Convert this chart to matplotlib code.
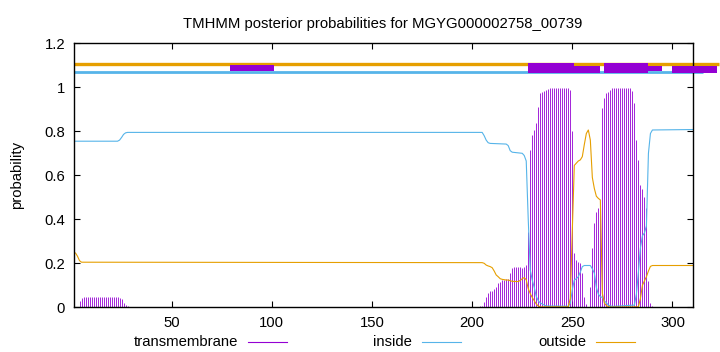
import numpy as np
import matplotlib
matplotlib.use('Agg')
import matplotlib.pyplot as plt
from matplotlib.lines import Line2D
from matplotlib.patches import Rectangle

plt.rcParams['font.family'] = ['Liberation Sans', 'DejaVu Sans']

title = 'TMHMM posterior probabilities for MGYG000002758_00739'
seq_len = 310

# transmembrane posterior, one impulse per residue
tm_pos = list(range(4, 33)) + list(range(175, 189)) + list(range(200, 292))
tm_val = [0.029, 0.043,
          0.045, 0.045, 0.045, 0.045, 0.045, 0.045, 0.045, 0.045, 0.045,
          0.045, 0.045, 0.045, 0.045, 0.045, 0.045, 0.045, 0.045, 0.045,
          0.044, 0.036, 0.018, 0.011, 0.004, 0.003, 0.002, 0.002, 0.001,
          # 175-188
          0.002, 0.002, 0.002, 0.002, 0.002, 0.002, 0.002,
          0.002, 0.002, 0.002, 0.002, 0.002, 0.002, 0.002,
          # 200-206
          0.002, 0.002, 0.003, 0.003, 0.004, 0.008, 0.025,
          # 207-240
          0.048, 0.064, 0.072, 0.076, 0.085, 0.094, 0.109, 0.117, 0.124, 0.124,
          0.127, 0.127, 0.154, 0.177, 0.182, 0.185, 0.185, 0.182, 0.177, 0.185,
          0.191, 0.344, 0.715, 0.783, 0.806, 0.836, 0.912, 0.973, 0.980, 0.985,
          0.990, 0.993, 0.995, 0.997,
          # 241-248
          0.998, 0.998, 0.998, 0.998, 0.998, 0.998, 0.998, 0.998,
          # 249-269
          0.990, 0.800, 0.245, 0.215, 0.205, 0.200, 0.155, 0.048, 0.015, 0.003,
          0.094, 0.268, 0.382, 0.435, 0.450, 0.480, 0.904, 0.950, 0.972, 0.980,
          0.990,
          # 270-279
          0.998, 0.998, 0.998, 0.998, 0.998, 0.998, 0.998, 0.998, 0.998, 0.998,
          # 280-291
          0.985, 0.927, 0.760, 0.669, 0.556, 0.540, 0.503, 0.450, 0.120, 0.020,
          0.005, 0.002]

# inside posterior
in_pos = [1, 23, 24, 25, 26, 27, 28, 205, 206, 207, 208, 209, 217, 218, 219,
          220, 225, 226, 227, 228, 229, 230, 231, 232, 233, 234, 235, 236, 237,
          248, 249, 250, 251, 252, 253, 254, 255, 256, 259, 260, 261, 262, 263,
          264, 265, 266, 267, 268, 270, 281, 282, 283, 284, 285, 286, 287, 288,
          289, 290, 310]
in_val = [0.755, 0.755, 0.760, 0.772, 0.786, 0.793, 0.795, 0.795, 0.780, 0.760,
          0.748, 0.745, 0.742, 0.735, 0.712, 0.705, 0.700, 0.690, 0.665, 0.400,
          0.170, 0.124, 0.090, 0.050, 0.030, 0.020, 0.015, 0.010, 0.006, 0.005,
          0.018, 0.080, 0.124, 0.130, 0.139, 0.160, 0.185, 0.190, 0.190, 0.175,
          0.155, 0.090, 0.060, 0.048, 0.045, 0.030, 0.020, 0.010, 0.004, 0.010,
          0.060, 0.160, 0.270, 0.325, 0.338, 0.370, 0.700, 0.790, 0.806, 0.808]

# outside posterior
out_pos = [1, 2, 3, 4, 5, 205, 206, 207, 208, 209, 210, 211, 212, 213, 214,
           215, 217, 218, 219, 220, 223, 224, 225, 226, 227, 228, 229, 230, 231,
           232, 233, 234, 248, 249, 250, 251, 252, 253, 254, 255, 256, 257, 258,
           259, 260, 261, 262, 263, 264, 265, 266, 267, 268, 269, 283, 284, 285,
           286, 287, 288, 289, 290, 310]
out_val = [0.247, 0.247, 0.232, 0.212, 0.205, 0.203, 0.200, 0.192, 0.188, 0.185,
           0.180, 0.165, 0.147, 0.139, 0.130, 0.127, 0.124, 0.124, 0.121, 0.118,
           0.117, 0.122, 0.130, 0.135, 0.125, 0.085, 0.062, 0.045, 0.030, 0.015,
           0.006, 0.002, 0.002, 0.040, 0.350, 0.645, 0.655, 0.665, 0.670, 0.685,
           0.740, 0.790, 0.806, 0.760, 0.590, 0.540, 0.505, 0.495, 0.488, 0.064,
           0.020, 0.008, 0.003, 0.001, 0.002, 0.040, 0.100, 0.120, 0.139, 0.165,
           0.186, 0.190, 0.190]

# topology summary drawn above 1.0
out_bar = [1, 323]
in_bar = [1, 315]
helix_start = [79, 228, 251, 266, 288, 300]
helix_end = [101, 251, 264, 288, 295, 322]
helix_low = [1.073, 1.064, 1.064, 1.064, 1.075, 1.064]
helix_high = [1.103, 1.110, 1.098, 1.110, 1.098, 1.098]

c_tm = '#9400D3'
c_in = '#56B4E9'
c_out = '#E69F00'
fs = 10.7

fig = plt.figure(figsize=(7.2, 3.52), dpi=100)
ax = fig.add_axes([73.5/720, 1 - 307.3/352, (692.5-73.5)/720, (307.3-43.3)/352])

ax.vlines(tm_pos, 0, tm_val, color=c_tm, lw=0.6)
ax.plot(in_pos, in_val, color=c_in, lw=0.8)
ax.plot(out_pos, out_val, color=c_out, lw=0.8)

ax.plot(out_bar, [1.107, 1.107], color=c_out, lw=2.4, clip_on=False,
        solid_capstyle='butt')
ax.plot(in_bar, [1.068, 1.068], color=c_in, lw=2.0, clip_on=False,
        solid_capstyle='butt')
for s, e, lo, hi in zip(helix_start, helix_end, helix_low, helix_high):
    ax.add_patch(Rectangle((s, lo), e - s, hi - lo, color=c_tm, lw=0,
                           clip_on=False, zorder=3))

ax.set_xlim(1, seq_len)
ax.set_ylim(0, 1.2)
ax.set_xticks([50, 100, 150, 200, 250, 300])
yt = [0, 0.2, 0.4, 0.6, 0.8, 1.0, 1.2]
ax.set_yticks(yt)
ax.set_yticklabels(['0', '0.2', '0.4', '0.6', '0.8', '1', '1.2'])
ax.tick_params(direction='in', top=True, right=True, length=4, width=0.8,
               labelsize=fs, pad=6)
for sp in ax.spines.values():
    sp.set_linewidth(1.0)

ax.set_title(title, fontsize=fs, pad=11)
fig.text(17/720, 1 - 175/352, 'probability', rotation=90, fontsize=fs,
         ha='center', va='center')

# key below the plot, gnuplot style (label then sample)
key_labels = ['transmembrane', 'inside', 'outside']
key_colors = [c_tm, c_in, c_out]
key_right = [238, 412, 586]
ky = 1 - 341.5/352
for lab, col, xr in zip(key_labels, key_colors, key_right):
    fig.text(xr/720, ky, lab, ha='right', va='center', fontsize=fs)
    fig.add_artist(Line2D([(xr + 10)/720, (xr + 49)/720], [ky, ky],
                          color=col, lw=0.8, transform=fig.transFigure))

fig.savefig('out.png', dpi=100)
